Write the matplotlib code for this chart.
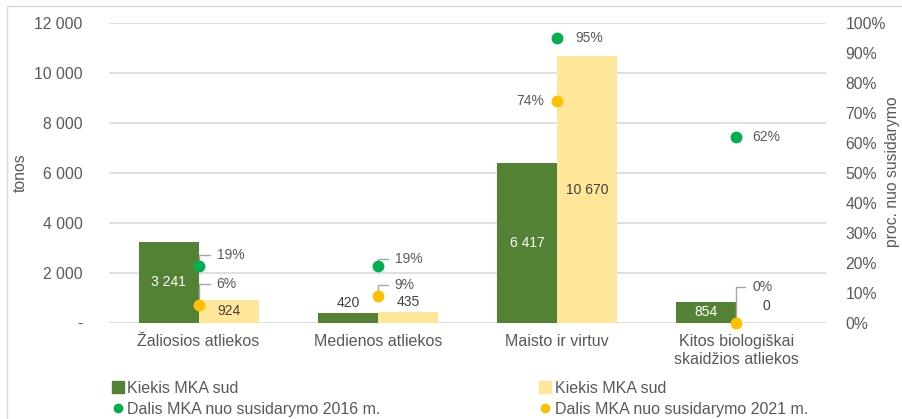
import matplotlib.pyplot as plt
from matplotlib.lines import Line2D
from matplotlib.patches import Rectangle
import numpy as np

plt.rcParams['font.family'] = ['Liberation Sans', 'DejaVu Sans']

# data
categories = ['Žaliosios atliekos', 'Medienos atliekos', 'Maisto ir virtuv',
              'Kitos biologiškai\nskaidžios atliekos']
kiekis_2016 = [3241, 420, 6417, 854]
kiekis_2021 = [924, 435, 10670, 0]
dalis_2016 = [19, 19, 95, 62]
dalis_2021 = [6, 9, 74, 0]
left_ticks = [0, 2000, 4000, 6000, 8000, 10000, 12000]
right_ticks = list(range(0, 101, 10))

# label placement (offset in pixels from the dot, leader line or not)
lab_2016 = [(18, 11, True), (17, 7, True), (18, 0, False), (16, 0, False)]
lab_2021 = [(18, 21, True), (17, 11, True), (-13, 0, False), (16, 36, True)]

GREEN_BAR = '#548235'
YELLOW_BAR = '#FFE699'
GREEN_DOT = '#00B050'
YELLOW_DOT = '#FFC000'
TXT = '#595959'
GRID = '#D9D9D9'

fig = plt.figure(figsize=(9.03, 4.19), dpi=100)
W, H = 903, 419
ax = fig.add_axes([109 / W, 1 - 323 / H, 717 / W, 300 / H])
ax2 = ax.twinx()

x = np.arange(len(categories))
bw = 0.335
b1 = ax.bar(x - bw / 2, kiekis_2016, bw, color=GREEN_BAR, zorder=2)
b2 = ax.bar(x + bw / 2, kiekis_2021, bw, color=YELLOW_BAR, zorder=2)

ax.set_xlim(-0.5, len(categories) - 0.5)
ax.set_ylim(0, 12000)
ax.set_yticks(left_ticks)
ax.set_yticklabels(['-' if t == 0 else f'{t:,}'.replace(',', ' ') for t in left_ticks])
ax.set_xticks(x)
ax.set_xticklabels(categories)
ax.grid(axis='y', color=GRID, lw=1.2, zorder=0)
ax.set_axisbelow(True)
ax.tick_params(axis='y', length=0, pad=19, labelsize=11.3, labelcolor=TXT)
ax.tick_params(axis='x', length=0, pad=8, labelsize=11.5, labelcolor=TXT)
for s in ax.spines.values():
    s.set_visible(False)

# bar value labels
for bars, col_in in ((b1, 'white'), (b2, '#404040')):
    for r in bars:
        h = r.get_height()
        cx = r.get_x() + r.get_width() / 2
        if h > 800:
            ax.annotate(f'{int(h):,}'.replace(',', ' '), (cx, h / 2), ha='center', va='center',
                        color=col_in, fontsize=10)
        else:
            ax.annotate(f'{int(h):,}'.replace(',', ' '), (cx, h), xytext=(0, 10 if h > 0 else 17),
                        textcoords='offset pixels', ha='center', va='center',
                        color='#404040', fontsize=10)

# share dots
ax2.set_ylim(0, 100)
ax2.set_yticks(right_ticks)
ax2.set_yticklabels([f'{t}%' for t in right_ticks])
ax2.tick_params(axis='y', length=0, pad=14, labelsize=11.3, labelcolor=TXT)
for s in ax2.spines.values():
    s.set_visible(False)
ax2.plot(x, dalis_2016, 'o', color=GREEN_DOT, ms=7.5, zorder=4, clip_on=False)
ax2.plot(x, dalis_2021, 'o', color=YELLOW_DOT, ms=7.5, zorder=4, clip_on=False)

for vals, labs in ((dalis_2016, lab_2016), (dalis_2021, lab_2021)):
    for i, (v, (dx, dy, leader)) in enumerate(zip(vals, labs)):
        kw = {}
        if leader:
            kw['arrowprops'] = dict(arrowstyle='-', color='#A6A6A6', lw=1,
                                    connectionstyle='angle,angleA=0,angleB=90,rad=0',
                                    shrinkA=3, shrinkB=3)
        ax2.annotate(f'{v}%', (i, v), xytext=(dx, dy), textcoords='offset pixels',
                     ha='left' if dx > 0 else 'right', va='center', color=TXT,
                     fontsize=10, **kw)

fig.text(20 / W, 1 - 173 / H, 'tonos', rotation=90, ha='center', va='center',
         fontsize=11.3, color=TXT)
fig.text(885 / W, 1 - 172 / H, 'proc. nuo susidarymo', rotation=90, ha='left',
         va='center', fontsize=11.3, color=TXT)

handles = [
    Line2D([], [], ls='', marker='s', ms=8, color=GREEN_BAR),
    Line2D([], [], ls='', marker='o', ms=6, color=GREEN_DOT),
    Line2D([], [], ls='', marker='s', ms=8, color=YELLOW_BAR),
    Line2D([], [], ls='', marker='o', ms=6, color=YELLOW_DOT),
]
labels = ['Kiekis MKA sud', 'Dalis MKA nuo susidarymo 2016 m.',
          'Kiekis MKA sud', 'Dalis MKA nuo susidarymo 2021 m.']
fig.legend(handles, labels, ncol=2, loc='upper left', bbox_to_anchor=(113 / W, 1 - 381 / H),
           frameon=False, fontsize=11.5, handlelength=0.6, handletextpad=0.3,
           columnspacing=10.0, labelspacing=0.35, borderpad=0, borderaxespad=0,
           labelcolor=TXT)

# outer chart border
fig.add_artist(Rectangle((7 / W, -0.1), 1.2, 1.1 - 6 / H, transform=fig.transFigure,
                         fill=False, ec='#D9D9D9', lw=1))

fig.savefig('out.png', dpi=100)
